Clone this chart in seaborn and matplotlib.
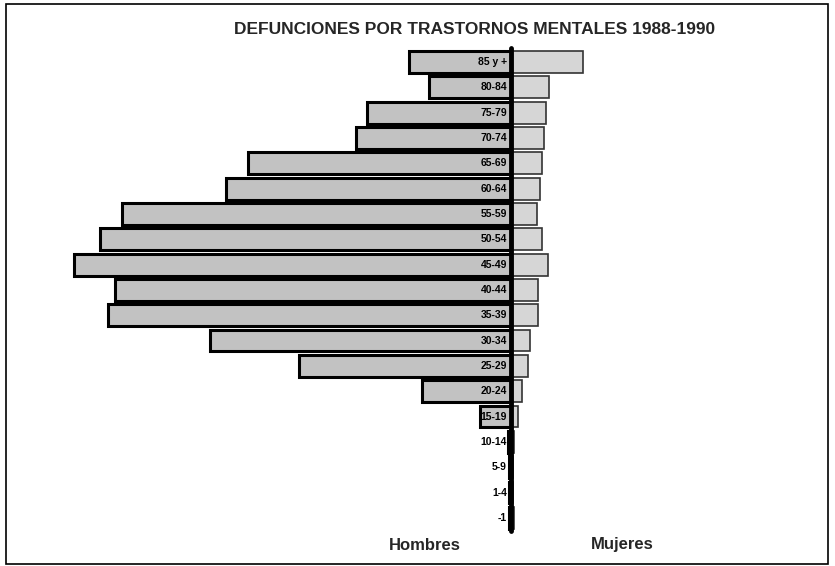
import matplotlib
matplotlib.use('Agg')
import matplotlib.pyplot as plt
import seaborn as sns
import pandas as pd
from matplotlib.patches import Rectangle

# age groups, top to bottom
edades = ['85 y +', '80-84', '75-79', '70-74', '65-69', '60-64', '55-59', '50-54',
          '45-49', '40-44', '35-39', '30-34', '25-29', '20-24', '15-19', '10-14',
          '5-9', '1-4', '-1']
hombres = [102, 82, 144, 155, 263, 285, 389, 411, 437, 396, 403, 301, 212, 89, 31, 3, 2, 2, 2]
mujeres = [72, 38, 35, 33, 31, 29, 26, 31, 37, 27, 27, 19, 17, 11, 7, 3, 2, 2, 3]

df = pd.DataFrame({'edad': edades, 'hombres': [-v for v in hombres], 'mujeres': mujeres})

sns.set_style('white')
plt.rcParams['font.family'] = ['Liberation Sans Narrow', 'Liberation Sans', 'DejaVu Sans']

fig = plt.figure(figsize=(8.35, 5.66), dpi=100)
ax = fig.add_axes([0, 0, 1, 1])

sns.barplot(data=df, y='edad', x='hombres', orient='h', color='#c2c2c2',
            saturation=1, width=0.86, edgecolor='black', linewidth=2.2, ax=ax)
sns.barplot(data=df, y='edad', x='mujeres', orient='h', color='#d6d6d6',
            saturation=1, width=0.86, edgecolor='#333333', linewidth=1.2, ax=ax)

ax.set_xlim(-511, 324)
ax.set_ylim(19.9, -2.448)
ax.axis('off')

# center line
ax.plot([0, 0], [-0.55, 18.5], color='black', lw=3.5, zorder=5)

# age labels just left of the center line
for i, e in enumerate(edades):
    ax.text(-4, i, e, ha='right', va='center', fontsize=7.5, fontweight='bold',
            color='black', zorder=6)

fig.text(475 / 835, 1 - 30 / 566, 'DEFUNCIONES POR TRASTORNOS MENTALES 1988-1990',
         ha='center', va='center', fontsize=12.5, fontweight='bold')
fig.text(425 / 835, 1 - 545 / 566, 'Hombres', ha='center', va='center',
         fontsize=12, fontweight='bold')
fig.text(622 / 835, 1 - 545 / 566, 'Mujeres', ha='center', va='center',
         fontsize=12, fontweight='bold')

# frame around the chart
fig.patches.append(Rectangle((6 / 835, 2 / 566), 822 / 835, 560 / 566, transform=fig.transFigure,
                             fill=False, edgecolor='black', lw=1.2))

fig.savefig('out.png', dpi=100)
